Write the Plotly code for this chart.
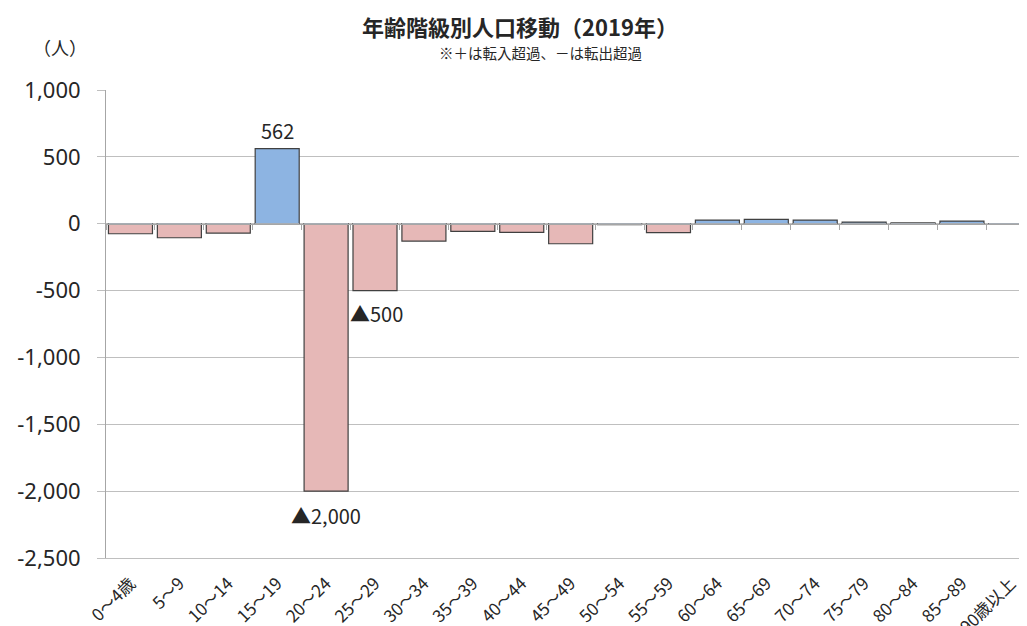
import plotly.graph_objects as go

categories = ["0～4歳", "5～9", "10～14", "15～19", "20～24", "25～29", "30～34", "35～39",
              "40～44", "45～49", "50～54", "55～59", "60～64", "65～69", "70～74", "75～79",
              "80～84", "85～89", "90歳以上"]
values = [-75, -105, -70, 562, -2000, -500, -130, -57, -65, -150, -7, -67, 27, 32, 27, 12, 6, 20, -3]
y_ticks = [1000, 500, 0, -500, -1000, -1500, -2000, -2500]
y_tick_labels = ["1,000", "500", "0", "-500", "-1,000", "-1,500", "-2,000", "-2,500"]

POS = "#8DB4E2"
NEG = "#E6B8B7"
colors = [POS if v > 0 else NEG for v in values]

FONT = "Noto Sans"
JP = "Noto Sans CJK JP"

ymin, ymax = -2500, 1000
fig = go.Figure()
fig.add_trace(go.Bar(
    x=categories, y=values, marker=dict(color=colors, line=dict(color="#404040", width=1.2)),
    hoverinfo="x+y", showlegend=False,
))
# dummy trace for zero-line category axis
fig.add_trace(go.Bar(x=categories, y=[0]*len(categories), xaxis="x2", showlegend=False,
                     hoverinfo="skip", marker=dict(color="rgba(0,0,0,0)")))

zero_frac = (0 - ymin) / (ymax - ymin)

W, H = 1019, 618  # page body has 8px margin
L, T, B = 98, 82, 68
fig.update_layout(
    width=W, height=H,
    margin=dict(l=L, r=0, t=T, b=B),
    paper_bgcolor="white", plot_bgcolor="white",
    bargap=0.1, barmode="overlay",
    font=dict(family=FONT, color="#262626"),
    xaxis=dict(
        type="category", range=[-0.5, 18.33], tickangle=-45, automargin=False,
        tickfont=dict(size=17, family=JP, color="#262626"), ticklabelstandoff=8,
        showgrid=False, showline=True, linecolor="#BFBFBF", linewidth=1,
        ticks="", zeroline=False, fixedrange=True,
    ),
    xaxis2=dict(
        type="category", overlaying="x", matches="x", anchor="free", position=zero_frac,
        side="bottom", showticklabels=False, ticks="outside", tickson="boundaries",
        ticklen=5, tickcolor="#A6A6A6", showline=True, linecolor="#A6A6A6", linewidth=1,
        showgrid=False, zeroline=False, automargin=False,
    ),
    yaxis=dict(
        range=[ymin, ymax], tickvals=y_ticks, ticktext=y_tick_labels, automargin=False,
        tickfont=dict(size=22, family=FONT, color="#262626"),
        showgrid=True, gridcolor="#BFBFBF", gridwidth=1,
        showline=True, linecolor="#A6A6A6", linewidth=1,
        ticks="outside", ticklen=8, tickcolor="#BFBFBF", ticklabelstandoff=12,
        zeroline=False, fixedrange=True,
    ),
)

pw = W - L
def px(xpage):
    return (xpage - 8 - L) / pw

fig.add_annotation(text="<b>年齢階級別人口移動（2019年）</b>", xref="paper", yref="paper",
                   x=px(520), y=1, yshift=64, showarrow=False, xanchor="center",
                   font=dict(size=22, family=JP, color="#262626"), yanchor="middle")
fig.add_annotation(text="※＋は転入超過、－は転出超過", xref="paper", yref="paper",
                   x=px(540), y=1, yshift=38, showarrow=False, xanchor="center",
                   font=dict(size=14.5, family=JP, color="#262626"), yanchor="middle")
fig.add_annotation(text="（人）", xref="paper", yref="paper",
                   x=px(60), y=1, yshift=43, showarrow=False, xanchor="center",
                   font=dict(size=18, family=JP, color="#262626"), yanchor="middle")

# data labels
lab = dict(size=20, family=JP, color="#262626")
fig.add_annotation(x=categories[3], y=values[3], text="562", showarrow=False,
                   yanchor="bottom", yshift=2, font=lab)
fig.add_annotation(x=categories[4], y=values[4], text="▲2,000", showarrow=False,
                   yanchor="top", yshift=-8, font=lab)
fig.add_annotation(x=categories[5], y=values[5], text="▲500", showarrow=False,
                   xanchor="left", xshift=-27, yanchor="top", yshift=-6, font=lab)

fig.write_html("out.html")
